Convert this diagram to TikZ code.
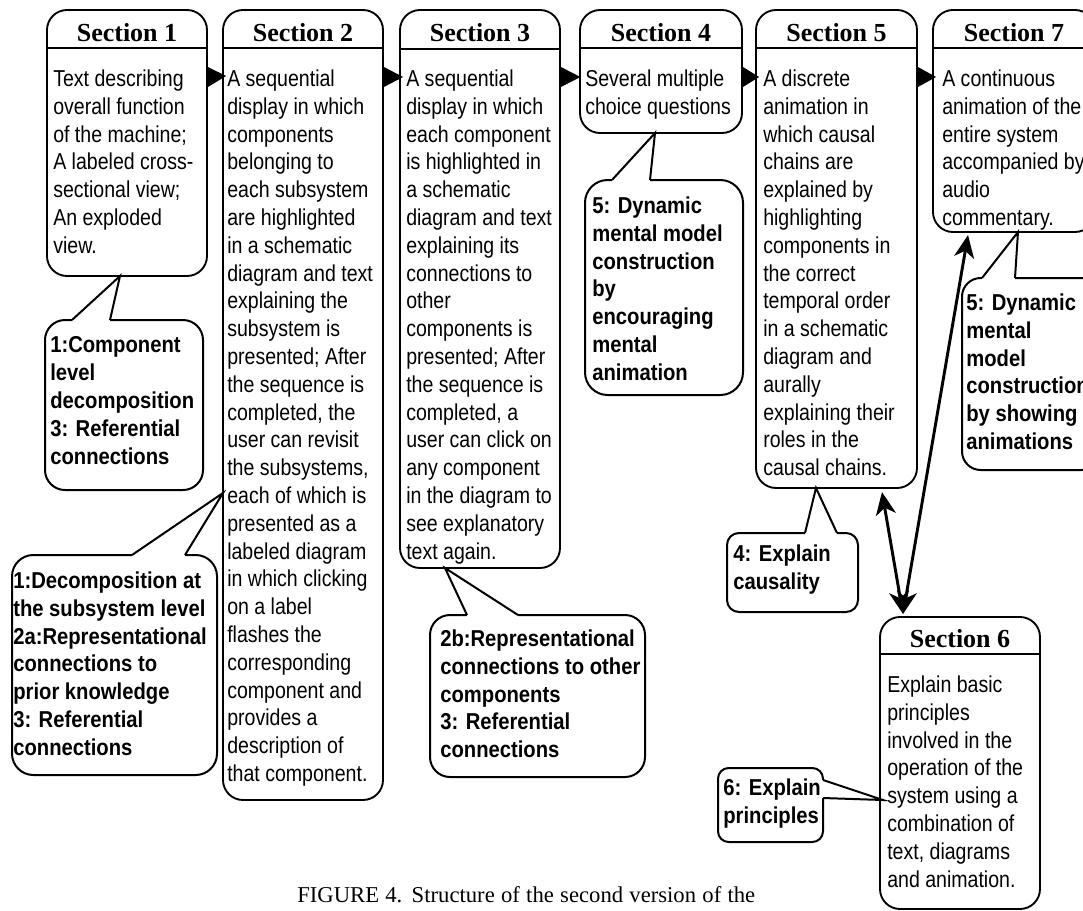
\documentclass[tikz,border=0pt]{standalone}
\usepackage{fontspec}
\setmainfont{Liberation Serif}
\newfontfamily\narrowf[FakeStretch=0.85]{Liberation Sans}
\newfontfamily\narrowbff[FakeStretch=0.88]{Liberation Sans}
\usetikzlibrary{fit,arrows.meta}
\begin{document}
\begin{tikzpicture}[x=0.75pt,y=-0.75pt,
  secbox/.style={draw, line width=1.4pt, rounded corners=15pt, inner sep=0pt},
  bub/.style={draw, line width=1.5pt, inner sep=0pt, rounded corners=#1},
  bub/.default=15pt,
  hdr/.style={anchor=base, inner sep=0pt, font=\bfseries\fontsize{19.5}{22}\selectfont},
  body/.style={anchor=north west, inner sep=0pt, align=left, font=\narrowf\fontsize{17.25}{20.85}\selectfont},
  btext/.style={anchor=north west, inner sep=0pt, align=left, font=\narrowbff\bfseries\fontsize{17.25}{20.85}\selectfont},
  hline/.style={line width=1.4pt},
  erase/.style={white, line width=2.4pt},
  ptr/.style={line width=1.5pt, line join=miter},
  dbl/.style={line width=2.2pt, {Stealth[length=17pt,width=15pt,inset=5pt]}-{Stealth[length=17pt,width=15pt,inset=5pt]}}
]
\useasboundingbox (0,0) rectangle (1083,911);

% ---------- Section boxes ----------
\node[secbox, fit={(47,10) (207,276)}] (s1) {};
\node[secbox, fit={(223,10) (383,800)}] (s2) {};
\node[secbox, fit={(400,10) (560,568)}] (s3) {};
\node[secbox, fit={(580,10) (742,133)}] (s4) {};
\node[secbox, fit={(756,10) (917,488)}] (s5) {};
\node[secbox, fit={(933,10) (1095,232)}] (s7) {};
\node[secbox, fit={(880,617) (1040,909)}] (s6) {};

\draw[hline] (s1.west |- 0,48) -- (s1.east |- 0,48);
\draw[hline] (s2.west |- 0,48) -- (s2.east |- 0,48);
\draw[hline] (s3.west |- 0,49) -- (s3.east |- 0,49);
\draw[hline] (s4.west |- 0,48) -- (s4.east |- 0,48);
\draw[hline] (s5.west |- 0,48) -- (s5.east |- 0,48);
\draw[hline] (s7.west |- 0,48) -- (s7.east |- 0,48);
\draw[hline] (s6.west |- 0,654) -- (s6.east |- 0,654);

\node[hdr] (s1h) at (127,41) {Section 1};
\node[hdr] (s2h) at (303,41) {Section 2};
\node[hdr] (s3h) at (480,41) {Section 3};
\node[hdr] (s4h) at (661,41) {Section 4};
\node[hdr] (s5h) at (836.5,41) {Section 5};
\node[hdr] (s7h) at (1014,41) {Section 7};
\node[hdr] (s6h) at (960,647) {Section 6};

\node[body] (s1t) at (53,69.5) {Text describing\\overall function\\of the machine;\\A labeled cross-\\sectional view;\\An exploded\\view.};
\node[body] (s2t) at (227,69.5) {A sequential\\display in which\\components\\belonging to\\each subsystem\\are highlighted\\in a schematic\\diagram and text\\explaining the\\subsystem is\\presented; After\\the sequence is\\completed, the\\user can revisit\\the subsystems,\\each of which is\\presented as a\\labeled diagram\\in which clicking\\on a label\\flashes the\\corresponding\\component and\\provides a\\description of\\that component.};
\node[body] (s3t) at (406,69.5) {A sequential\\display in which\\each component\\is highlighted in\\a schematic\\diagram and text\\explaining its\\connections to\\other\\components is\\presented; After\\the sequence is\\completed, a\\user can click on\\any component\\in the diagram to\\see explanatory\\text again.};
\node[body] (s4t) at (585,69.5) {Several multiple\\choice questions};
\node[body] (s5t) at (763,69.5) {A discrete\\animation in\\which causal\\chains are\\explained by\\highlighting\\components in\\the correct\\temporal order\\in a schematic\\diagram and\\aurally\\explaining their\\roles in the\\causal chains.};
\node[body] (s7t) at (942,69.5) {A continuous\\animation of the\\entire system\\accompanied by\\audio\\commentary.};
\node[body] (s6t) at (887,675.5) {Explain basic\\principles\\involved in the\\operation of the\\system using a\\combination of\\text, diagrams\\and animation.};

% ---------- flow triangles ----------
\fill (s1.east |- 0,67) -- ([xshift=3pt]s2.west |- 0,76) -- (s1.east |- 0,87) -- cycle;
\fill (s2.east |- 0,67) -- ([xshift=3pt]s3.west |- 0,77) -- (s2.east |- 0,87) -- cycle;
\fill (s3.east |- 0,67) -- ([xshift=1pt]s4.west |- 0,77) -- (s3.east |- 0,87) -- cycle;
\fill (s4.east |- 0,67) -- ([xshift=3pt]s5.west |- 0,77) -- (s4.east |- 0,87) -- cycle;
\fill (s5.east |- 0,67) -- ([xshift=3pt]s7.west |- 0,77) -- (s5.east |- 0,87) -- cycle;

% ---------- double arrows ----------
\coordinate (a5) at (882,492);
\coordinate (a6) at (903,614);
\coordinate (a7) at (968,235);
\draw[dbl] (a5) -- (a6);
\draw[dbl] (a7) -- (a6);

% ---------- callouts ----------
% A
\coordinate (tA) at (120,276);
\node[bub=15pt, fit={(45,320) (203,490)}] (cA) {};
\draw[erase] (72,320) -- (110,320);
\draw[ptr] (72,320) -- (tA) -- (110,320);
\node[btext] (cAt) at (50,336.5) {1:Component\\level\\decomposition\\3: Referential\\connections};

% B
\coordinate (tB) at (223,493);
\node[bub=16pt, fit={(12,555) (217,775)}] (cB) {};
\draw[erase] (132,555) -- (185,555);
\draw[ptr] (132,555) -- (tB) -- (185,555);
\node[btext] (cBt) at (13,571.5) {1:Decomposition at\\the subsystem level\\2a:Representational\\connections to\\prior knowledge\\3: Referential\\connections};

% C
\coordinate (tC) at (655,133);
\node[bub=17pt, fit={(585,180) (743,395)}] (cC) {};
\draw[erase] (612,180) -- (650,180);
\draw[ptr] (612,180) -- (tC) -- (650,180);
\node[btext] (cCt) at (592,196.5) {5: Dynamic\\mental model\\construction\\by\\encouraging\\mental\\animation};

% D
\coordinate (tD) at (816,488);
\node[bub=9pt, fit={(727,533) (858,612)}] (cD) {};
\draw[erase] (805,533) -- (837,533);
\draw[ptr] (805,533) -- (tD) -- (837,533);
\node[btext] (cDt) at (733,544.5) {4: Explain\\causality};

% E
\coordinate (tE) at (1018,232);
\node[bub=14pt, fit={(962,278) (1100,470)}] (cE) {};
\draw[erase] (982,278) -- (1015,278);
\draw[ptr] (982,278) -- (tE) -- (1015,278);
\node[btext] (cEt) at (966,293.5) {5: Dynamic\\mental\\model\\construction\\by showing\\animations};

% F
\coordinate (tF) at (445,568);
\node[bub=15pt, fit={(430,615) (645,777)}] (cF) {};
\draw[erase] (467,615) -- (518,615);
\draw[ptr] (467,615) -- (tF) -- (518,615);
\node[btext] (cFt) at (440,629.5) {2b:Representational\\connections to other\\components\\3: Referential\\connections};

% G
\coordinate (tG) at (883,800);
\node[bub=8pt, fit={(718,768) (823,842)}] (cG) {};
\draw[erase] (823,780) -- (823,798);
\draw[ptr] (823,780) -- (tG) -- (823,798);
\node[btext] (cGt) at (723,778.5) {6: Explain\\principles};

% ---------- caption ----------
\node[anchor=base west, inner sep=0pt, font=\fontsize{17}{20}\selectfont] (cap) at (297,902) {\makebox[343.5pt][s]{FIGURE 4. Structure of the second version of the}};
\end{tikzpicture}
\end{document}
